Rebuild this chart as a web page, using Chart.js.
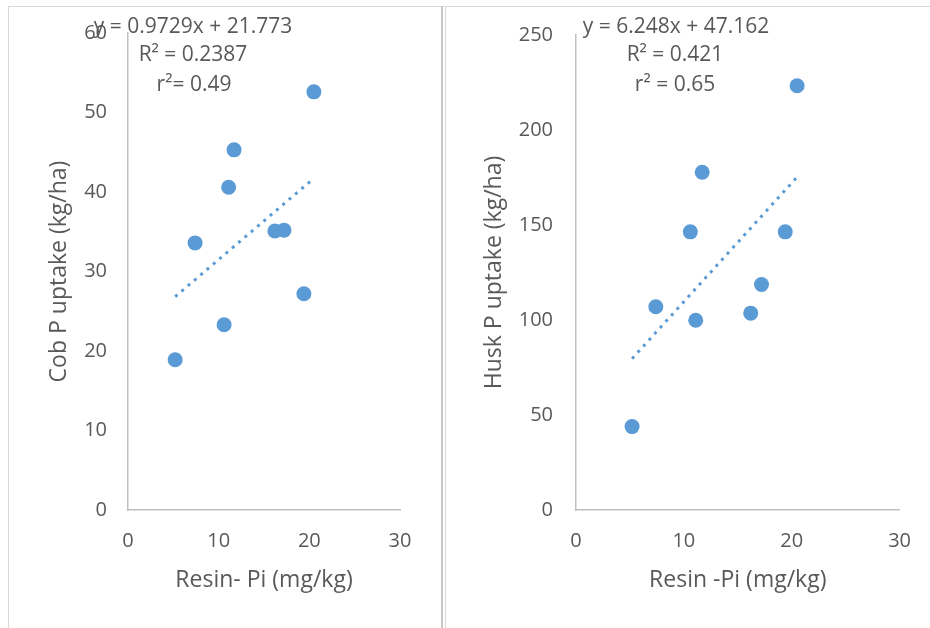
<!DOCTYPE html>
<html>
<head>
<meta charset="utf-8">
<script src="https://cdn.jsdelivr.net/npm/chart.js@4.4.0/dist/chart.umd.min.js"></script>
<style>
  body { margin: 0; background: #fff; width: 930px; height: 628px; overflow: hidden; position: relative; font-family: "Open Sans", sans-serif; }
  .line { position: absolute; background: #d9d9d9; }
  .box { position: absolute; top: 0; height: 628px; }
  #leftBox { left: 0; width: 443px; }
  #rightBox { left: 446px; width: 484px; }
  .eq { position: absolute; font-size: 21px; line-height: 24px; color: #595959; white-space: nowrap; transform: translateX(-50%); }
</style>
</head>
<body>
<div class="line" style="left:8px;top:6px;width:922px;height:1px"></div>
<div class="line" style="left:8px;top:6px;width:1px;height:622px"></div>
<div class="line" style="left:441px;top:6px;width:2px;height:622px;background:#c8c8c8"></div>
<div class="line" style="left:445px;top:6px;width:1px;height:622px"></div>

<div class="box" id="leftBox"><canvas id="cobChart"></canvas></div>
<div class="box" id="rightBox"><canvas id="huskChart"></canvas></div>

<div class="eq" style="left:193px;top:13px">y = 0.9729x + 21.773</div>
<div class="eq" style="left:193px;top:41px">R² = 0.2387</div>
<div class="eq" style="left:194px;top:71px">r²= 0.49</div>
<div class="eq" style="left:676px;top:13px">y = 6.248x + 47.162</div>
<div class="eq" style="left:675px;top:41px">R² = 0.421</div>
<div class="eq" style="left:675px;top:71px">r² = 0.65</div>

<script>
// Resin-Pi (mg/kg) shared by both plots
const resinPi = [5.2, 7.4, 10.6, 11.1, 11.7, 16.2, 17.2, 19.4, 20.5];
const cobUptake = [18.9, 33.6, 23.3, 40.6, 45.3, 35.1, 35.2, 27.2, 52.6];
const huskUptake = [43.9, 107, 146.4, 99.9, 177.8, 103.6, 118.7, 146.4, 223.3];

// trendlines as reported on the chart
const cobFit = { slope: 0.9729, intercept: 21.773 };
const huskFit = { slope: 6.248, intercept: 47.162 };

const xTicks = { min: 0, max: 30, step: 10 };
const cobTicks = { min: 0, max: 60, step: 10 };
const huskTicks = { min: 0, max: 250, step: 50 };

const blue = '#5b9bd5';
const grey = '#595959';

function makeChart(id, yVals, fit, yRange, yTitle, xTitle, opt) {
  const pts = resinPi.map((x, i) => ({ x: x, y: yVals[i] }));
  const x0 = Math.min(...resinPi), x1 = Math.max(...resinPi);
  const trend = [x0, x1].map(x => ({ x: x, y: fit.slope * x + fit.intercept }));

  new Chart(document.getElementById(id), {
    type: 'scatter',
    data: {
      datasets: [
        { data: trend, showLine: true, borderColor: blue, borderWidth: 3,
          borderDash: [3, 5.3], pointRadius: 0, order: 2 },
        { data: pts, backgroundColor: blue, borderWidth: 0, pointRadius: 7.5, order: 1 }
      ]
    },
    options: {
      responsive: true,
      maintainAspectRatio: false,
      animation: false,
      layout: { padding: { top: 33, right: opt.padRight, left: 0, bottom: 0 } },
      plugins: { legend: { display: false }, tooltip: { enabled: false } },
      scales: {
        x: {
          type: 'linear', min: xTicks.min, max: xTicks.max,
          ticks: { stepSize: xTicks.step, color: grey, padding: 19, font: { family: 'Open Sans', size: 20 } },
          grid: { drawOnChartArea: false, drawTicks: false },
          border: { color: '#bfbfbf', width: 1.5 },
          title: { display: true, text: xTitle, color: grey, padding: { bottom: 34 },
                   font: { family: 'Open Sans', size: 23 } },
          afterFit: s => { s.height = 118; }
        },
        y: {
          min: yRange.min, max: yRange.max,
          ticks: { stepSize: yRange.step, color: grey, padding: opt.tickPad, font: { family: 'Open Sans', size: 20 } },
          grid: { drawOnChartArea: false, drawTicks: false },
          border: { color: '#bfbfbf', width: 1.5 },
          title: { display: true, text: yTitle, color: grey, padding: { top: opt.titlePad },
                   font: { family: 'Open Sans', size: 23 } },
          afterFit: s => { s.width = opt.axisWidth; }
        }
      }
    }
  });
}

makeChart('cobChart', cobUptake, cobFit, cobTicks, 'Cob P uptake (kg/ha)', 'Resin- Pi (mg/kg)',
  { padRight: 43, axisWidth: 128, tickPad: 21, titlePad: 46 });
makeChart('huskChart', huskUptake, huskFit, huskTicks, 'Husk P uptake (kg/ha)', 'Resin -Pi (mg/kg)',
  { padRight: 30, axisWidth: 130, tickPad: 23, titlePad: 35 });
</script>
</body>
</html>
